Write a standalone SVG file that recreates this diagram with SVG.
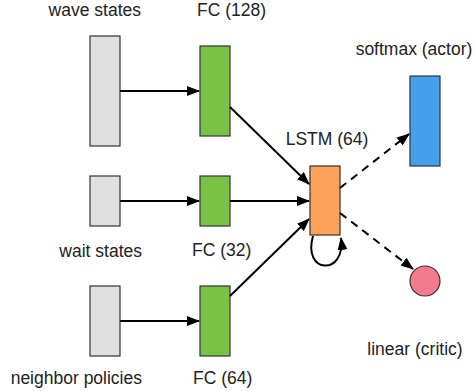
<svg xmlns="http://www.w3.org/2000/svg" width="475" height="391" viewBox="0 0 475 391">
  <defs>
    <style>
      text { font-family: "Liberation Sans", Arial, Helvetica, sans-serif; font-size: 17.5px; fill: #222; }
      .box { stroke: #333; stroke-width: 1.2; }
      .input { fill: #e0e0e0; }
      .fc { fill: #78c346; }
      .lstm { fill: #fca35b; }
      .actor { fill: #469fec; }
      .critic { fill: #f47b8d; }
      .edge { fill: none; stroke: #000; stroke-width: 2; }
      .dashed { stroke-dasharray: 8 6; }
    </style>
    <marker id="arrow" viewBox="0 0 13 10" refX="12" refY="5" markerWidth="13" markerHeight="10" markerUnits="userSpaceOnUse" orient="auto">
      <path d="M0,0 L13,5 L0,10 Z" fill="#000"/>
    </marker>
  </defs>

  <rect width="475" height="391" fill="#fff"/>

  <!-- input states -->
  <g id="wave-states">
    <rect class="box input" x="90" y="36" width="30" height="110"/>
    <text x="141" y="16" text-anchor="end">wave states</text>
  </g>
  <g id="wait-states">
    <rect class="box input" x="90" y="176" width="30" height="50"/>
    <text x="142" y="257" text-anchor="end">wait states</text>
  </g>
  <g id="neighbor-policies">
    <rect class="box input" x="90" y="286" width="30" height="70"/>
    <text x="142" y="384" text-anchor="end">neighbor policies</text>
  </g>

  <!-- fully connected layers -->
  <g id="fc-128">
    <rect class="box fc" x="200" y="46" width="30" height="90"/>
    <text x="197" y="16">FC (128)</text>
  </g>
  <g id="fc-32">
    <rect class="box fc" x="200" y="176" width="30" height="50"/>
    <text x="192" y="256">FC (32)</text>
  </g>
  <g id="fc-64">
    <rect class="box fc" x="200" y="286" width="30" height="70"/>
    <text x="193" y="384">FC (64)</text>
  </g>

  <!-- recurrent core -->
  <g id="lstm">
    <rect class="box lstm" x="310" y="166" width="30" height="69"/>
    <text x="327" y="145" text-anchor="middle">LSTM (64)</text>
  </g>

  <!-- heads -->
  <g id="actor">
    <rect class="box actor" x="410" y="76" width="30" height="90"/>
    <text x="414" y="55" text-anchor="middle">softmax (actor)</text>
  </g>
  <g id="critic">
    <circle class="box critic" cx="425" cy="281" r="15"/>
    <text x="415" y="355" text-anchor="middle">linear (critic)</text>
  </g>

  <g id="connectors">
    <path class="edge" d="M120,91 L199,91" marker-end="url(#arrow)"/>
    <path class="edge" d="M120,201 L199,201" marker-end="url(#arrow)"/>
    <path class="edge" d="M120,321 L199,321" marker-end="url(#arrow)"/>
    <path class="edge" d="M230,107 L309,184" marker-end="url(#arrow)"/>
    <path class="edge" d="M230,201 L309,201" marker-end="url(#arrow)"/>
    <path class="edge" d="M230,296 L309,219" marker-end="url(#arrow)"/>
    <path class="edge dashed" d="M340,188 L409,134" marker-end="url(#arrow)"/>
    <path class="edge dashed" d="M340,213 L413,269" marker-end="url(#arrow)"/>
    <path class="edge" d="M313,236 C302,274 346,276 341,238" marker-end="url(#arrow)"/>
  </g>
</svg>
